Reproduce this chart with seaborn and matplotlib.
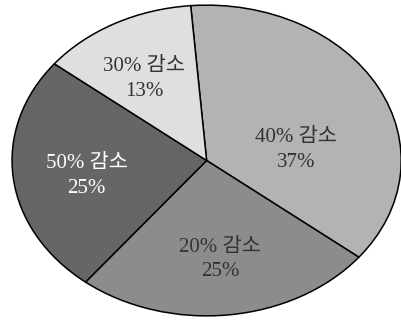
import numpy as np
import matplotlib
matplotlib.use('Agg')
import matplotlib.pyplot as plt
import seaborn as sns

sns.set_theme(style='white')
plt.rcParams['font.family'] = ['Liberation Serif', 'Noto Sans CJK KR']

# slices, clockwise from the top
labels = ['40% 감소', '20% 감소', '50% 감소', '30% 감소']
shares = [37, 25, 25, 13]
colors = ['#b3b3b3', '#8c8c8c', '#666666', '#dfdfdf']
text_colors = ['#333333', '#333333', '#ffffff', '#333333']

fig = plt.figure(figsize=(4.02, 3.21), dpi=100)
ax = fig.add_axes([0.03, 0.016, 0.968, 0.968])

wedges, _ = ax.pie(shares, startangle=94.7, counterclock=False, colors=colors,
                   wedgeprops=dict(edgecolor='black', linewidth=1.1))
ax.set_aspect('auto')
ax.set_xlim(-1, 1)
ax.set_ylim(-1, 1)
ax.axis('off')
for w in wedges:
    w.set_clip_on(False)

# label radius per slice (text sits a bit inside for the big slice)
radii = [0.47, 0.61, 0.62, 0.64]
shift = [-16, 0, 0, 2]
for w, lab, s, tc, r, d in zip(wedges, labels, shares, text_colors, radii, shift):
    ang = np.deg2rad((w.theta1 + w.theta2) / 2 + d)
    ax.text(r * np.cos(ang), r * np.sin(ang) - 0.03, f'{lab}\n{s}%', ha='center', va='center',
            fontsize=15, color=tc, linespacing=1.4)

fig.savefig('out.png', dpi=100)
